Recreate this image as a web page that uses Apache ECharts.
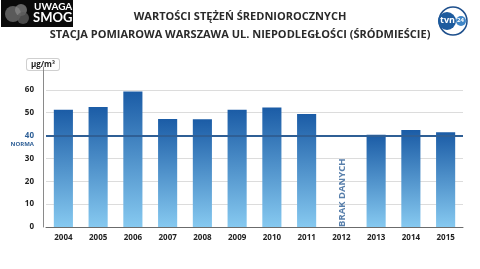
<!DOCTYPE html>
<html><head><meta charset="utf-8">
<script src="https://cdn.jsdelivr.net/npm/echarts@6/dist/echarts.min.js"></script>
<style>html,body{margin:0;padding:0;background:#fff}#c{width:480px;height:269px}</style>
</head><body><div id="c"></div>
<script>
const years = ['2004','2005','2006','2007','2008','2009','2010','2011','2012','2013','2014','2015'];
const values = [51.3, 52.5, 59.3, 47.2, 47.1, 51.3, 52.3, 49.4, null, 40.4, 42.4, 41.4];
const normValue = 40;
const noDataYear = '2012';
const noDataText = 'BRAK DANYCH';
const unitLabel = 'µg/m³';
const title1 = 'WARTOŚCI STĘŻEŃ ŚREDNIOROCZNYCH';
const title2 = 'STACJA POMIAROWA WARSZAWA UL. NIEPODLEGŁOŚCI (ŚRÓDMIEŚCIE)';
const normLabel = 'NORMA';

const FONT = '"Open Sans", sans-serif';
const chart = echarts.init(document.getElementById('c'), null, {renderer: 'canvas'});
chart.setOption({
  animation: false,
  backgroundColor: '#ffffff',
  grid: {left: 46, right: 17, top: 67, bottom: 42},
  xAxis: {
    type: 'category', data: years,
    axisTick: {show: false},
    axisLine: {lineStyle: {color: '#6b6b6b', width: 1}},
    axisLabel: {color: '#222', fontFamily: FONT, fontWeight: 'bold', fontSize: 8, margin: 7}
  },
  yAxis: {
    type: 'value', min: 0, max: 70, interval: 10, offset: 3,
    name: unitLabel, nameLocation: 'end', nameGap: -3,
    nameTextStyle: {color: '#222', fontFamily: FONT, fontWeight: 'bold', fontSize: 8,
      backgroundColor: '#fff',
      borderColor: '#cfcfcf', borderWidth: 1, borderRadius: 2, padding: [2, 4, 1, 4], align: 'center'},
    axisLine: {show: true, lineStyle: {color: '#8a8a8a', width: 1}},
    axisTick: {show: false},
    splitLine: {show: true, showMaxLine: false, lineStyle: {color: '#dcdcdc', width: 1}},
    axisLabel: {
      showMaxLabel: false, margin: 9,
      fontFamily: FONT, fontWeight: 'bold', fontSize: 8, color: '#222',
      formatter: function (v) {
        if (v === normValue) return '{e| }\n{b|' + v + '}\n{n|' + normLabel + '}';
        return v;
      },
      rich: {
        e: {fontSize: 6, lineHeight: 7},
        b: {color: '#2e5f96', fontFamily: FONT, fontWeight: 'bold', fontSize: 8, lineHeight: 10, align: 'right'},
        n: {color: '#2e5f96', fontFamily: FONT, fontWeight: 'bold', fontSize: 6, lineHeight: 7, align: 'right'}
      }
    }
  },
  series: [{
    type: 'bar', data: values, barWidth: '55%',
    itemStyle: {color: new echarts.graphic.LinearGradient(0, 0, 0, 1, [
      {offset: 0, color: '#1b5ca6'}, {offset: 1, color: '#86c9f0'}])},
    markLine: {
      silent: true, symbol: 'none',
      label: {show: false},
      lineStyle: {color: '#2f5f95', width: 2, type: 'solid'},
      data: [{yAxis: normValue}]
    }
  }, {
    type: 'scatter', symbolSize: 0,
    data: [[noDataYear, 0]],
    label: {
      show: true, formatter: noDataText, position: 'inside', rotate: 90,
      align: 'left', verticalAlign: 'middle', offset: [0, 1],
      color: '#2e5f96', fontFamily: FONT, fontWeight: 'bold', fontSize: 9.5
    }
  }],
  graphic: [
    {type: 'text', left: 'center', top: 11, style: {text: title1, fill: '#2a2a2a', font: 'bold 11px "Open Sans", sans-serif'}},
    {type: 'text', left: 'center', top: 29, style: {text: title2, fill: '#2a2a2a', font: 'bold 11px "Open Sans", sans-serif'}},
    {type: 'rect', shape: {x: 1, y: 0, width: 72, height: 27}, style: {fill: '#0a0a0a'}},
    {type: 'circle', shape: {cx: 13, cy: 14, r: 8}, style: {fill: '#6e6e6e', opacity: 0.8}},
    {type: 'circle', shape: {cx: 21, cy: 10, r: 6}, style: {fill: '#8a8a8a', opacity: 0.7}},
    {type: 'circle', shape: {cx: 23, cy: 18, r: 6}, style: {fill: '#5a5a5a', opacity: 0.8}},
    {type: 'text', x: 34, y: 2, style: {text: 'UWAGA', fill: '#fff', font: 'bold 10px Lato, sans-serif'}},
    {type: 'text', x: 33, y: 11, style: {text: 'SMOG', fill: '#fff', font: 'bold 13px Lato, sans-serif'}},
    {type: 'circle', shape: {cx: 453, cy: 21, r: 14}, style: {fill: 'none', stroke: '#1d4f8c', lineWidth: 1.5}},
    {type: 'circle', shape: {cx: 447, cy: 21, r: 9}, style: {fill: '#1d5b9e'}},
    {type: 'circle', shape: {cx: 461, cy: 21, r: 5}, style: {fill: '#3f86c7'}},
    {type: 'text', x: 440, y: 16, style: {text: 'tvn', fill: '#fff', font: 'bold 9px "Open Sans", sans-serif'}},
    {type: 'text', x: 457, y: 17, style: {text: '24', fill: '#fff', font: 'bold 6px "Open Sans", sans-serif'}}
  ]
});
</script></body></html>
